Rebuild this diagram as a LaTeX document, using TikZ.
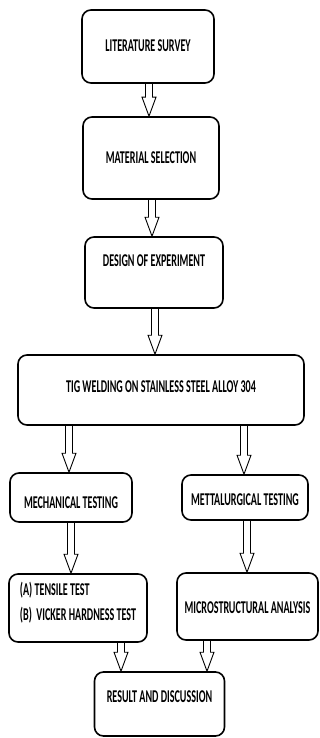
\documentclass[tikz,border=0pt]{standalone}
\usepackage{fontspec}
\usepackage{tikz}
\usetikzlibrary{calc}
\newfontfamily\boxfont{Carlito}[FakeStretch=0.56]
% baseline of the text, measured from the box centre (up is positive)
\newcommand{\lifted}[2]{\raisebox{#1pt}[0pt][0pt]{#2}}

\begin{document}
\begin{tikzpicture}[x=1pt, y=-1pt,
  stage/.style={draw, line width=1.6pt, rounded corners=9pt, inner sep=0pt,
    font=\boxfont\bfseries\fontsize{18}{21}\selectfont},
  hollow/.style={line width=0.9pt, line join=miter,
    to path={($(\tikztostart)+(-3.5,0)$) -- ($(\tikztotarget)+(-3.5,-19)$)
      -- ($(\tikztotarget)+(-7,-19)$) -- (\tikztotarget)
      -- ($(\tikztotarget)+(7,-19)$) -- ($(\tikztotarget)+(3.5,-19)$)
      -- ($(\tikztostart)+(3.5,0)$)}}]
  \useasboundingbox (0,0) rectangle (320,738);
  % boxes
  \node[stage, minimum width=132pt, minimum height=73pt] (lit) at (148,46.5)
    {\lifted{-5}{LITERATURE SURVEY}};
  \node[stage, minimum width=136pt, minimum height=82pt] (mat) at (151,158)
    {\lifted{-5.5}{MATERIAL SELECTION}};
  \node[stage, minimum width=138pt, minimum height=71pt] (doe) at (154,272.5)
    {\lifted{6}{DESIGN OF EXPERIMENT}};
  \node[stage, minimum width=286pt, minimum height=70pt] (tig) at (161,390)
    {\lifted{-2.5}{TIG WELDING ON STAINLESS STEEL ALLOY 304}};
  \node[stage, minimum width=122pt, minimum height=49pt] (mech) at (71,497.5)
    {\lifted{-11}{MECHANICAL TESTING}};
  \node[stage, minimum width=126pt, minimum height=45pt] (mett) at (245,497.5)
    {\lifted{-8}{METTALURGICAL TESTING}};
  \node[stage, minimum width=138pt, minimum height=68pt] (tens) at (78,608)
    {\lifted{-12.5}{\begin{tabular}[b]{@{}l@{}}(A) TENSILE TEST\\[4pt](B)\ \ VICKER HARDNESS TEST\end{tabular}}};
  \node[stage, minimum width=141pt, minimum height=67pt] (micro) at (247.5,606.5)
    {\lifted{-7}{MICROSTRUCTURAL ANALYSIS}};
  \node[stage, minimum width=130pt, minimum height=64pt] (res) at (159.5,704)
    {\lifted{2}{RESULT AND DISCUSSION}};
  % arrow columns
  \coordinate (a1) at (149,0);
  \coordinate (a2) at (152,0);
  \coordinate (a3) at (155,0);
  \coordinate (a4l) at (69,0);
  \coordinate (a4r) at (244,0);
  \coordinate (a5l) at (71,0);
  \coordinate (a5r) at (247,0);
  \coordinate (a6l) at (121,0);
  \coordinate (a6r) at (207,0);
  % arrows
  \draw[hollow] (lit.south -| a1) to (mat.north -| a1);
  \draw[hollow] (mat.south -| a2) to (doe.north -| a2);
  \draw[hollow] (doe.south -| a3) to (tig.north -| a3);
  \draw[hollow] (tig.south -| a4l) to (mech.north -| a4l);
  \draw[hollow] (tig.south -| a4r) to (mett.north -| a4r);
  \draw[hollow] (mech.south -| a5l) to (tens.north -| a5l);
  \draw[hollow] (mett.south -| a5r) to (micro.north -| a5r);
  \draw[hollow] (tens.south -| a6l) to (res.north -| a6l);
  \draw[hollow] (micro.south -| a6r) to (res.north -| a6r);
\end{tikzpicture}
\end{document}
